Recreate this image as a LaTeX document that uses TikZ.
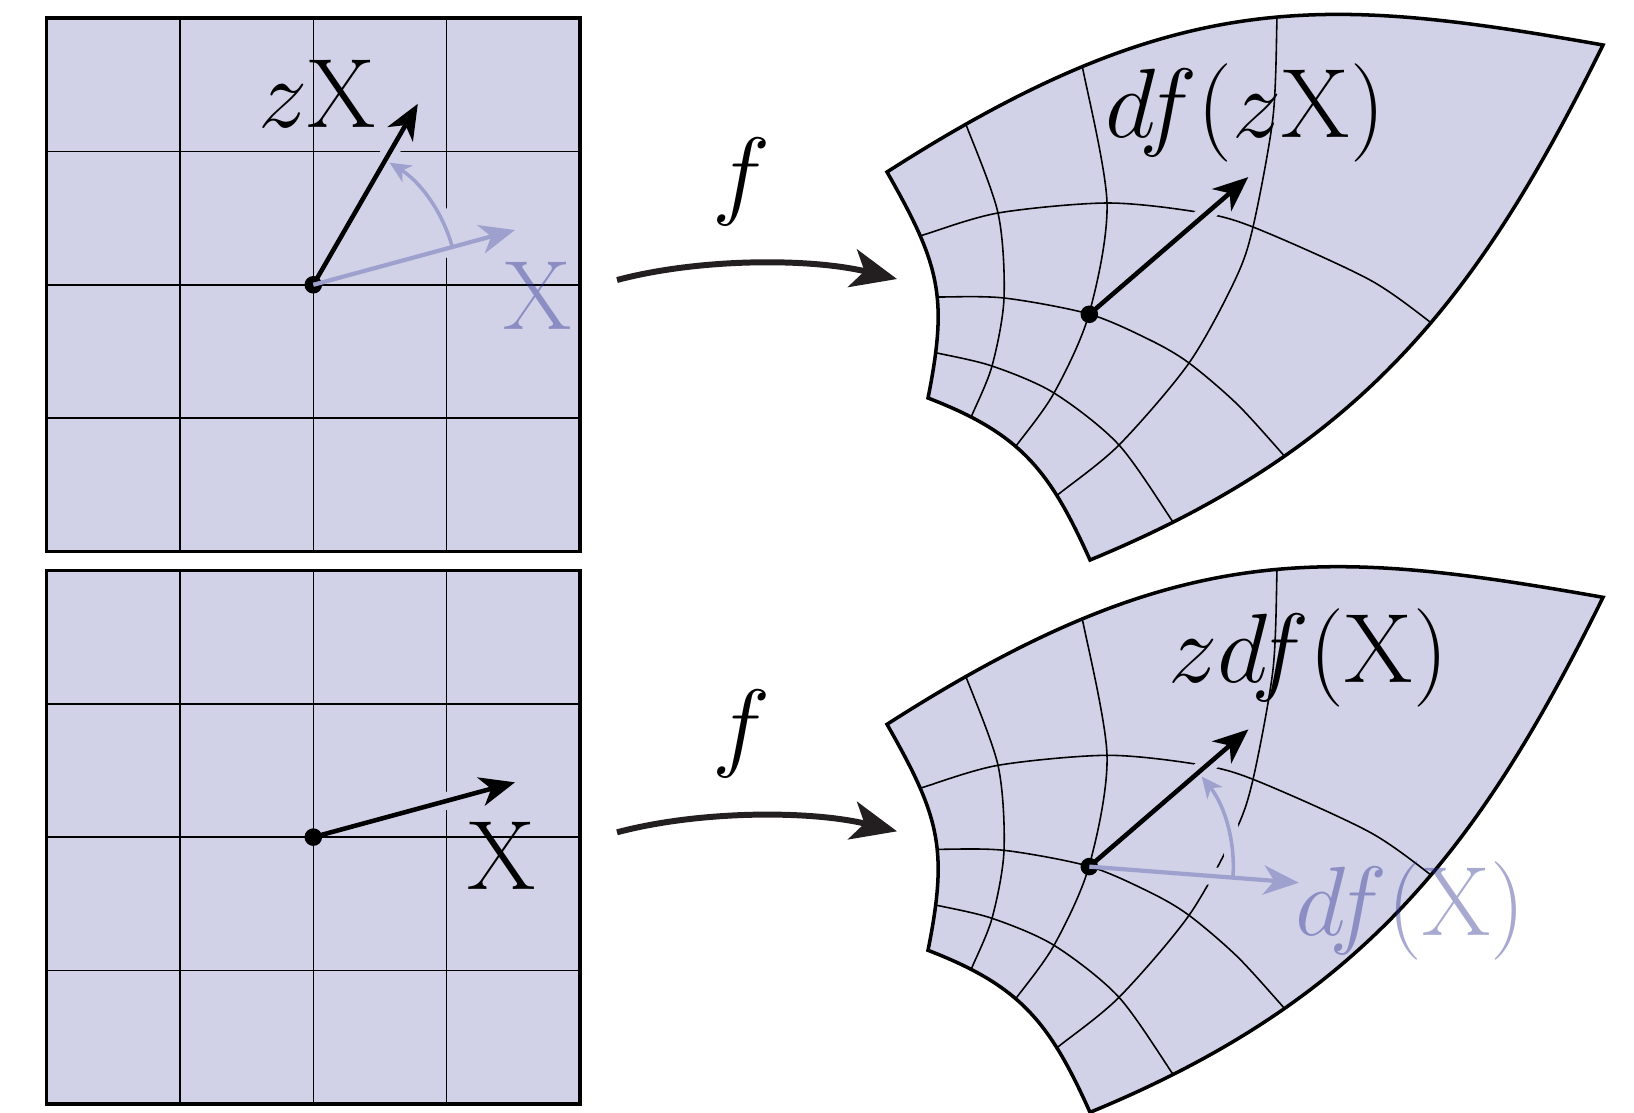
\RequirePackage{fix-cm}
\documentclass[tikz,border=0pt]{standalone}
\usetikzlibrary{arrows.meta}

\definecolor{navy}{RGB}{46,49,146}
\colorlet{lavender}{navy!22!white}
\colorlet{pale}{navy!31!lavender}
\definecolor{mapgray}{RGB}{35,31,32}

% outline of the image of the square
\newcommand{\petalpath}{(887,172) .. controls (1178,-14.7) and (1325,-4) .. (1603,45)
  .. controls (1479,296) and (1364,447) .. (1090,560)
  .. controls (1049,468.6) and (1019.6,433.4) .. (928,398)
  .. controls (948.2,297) and (940.1,265) .. (887,172) -- cycle}

\begin{document}
\begin{tikzpicture}[
  x=0.01cm, y=-0.01cm,
  >=Stealth,
  every node/.style={inner sep=0pt,font=\fontsize{28}{34}\selectfont},
  sheet/.style={fill=lavender,draw=black,line width=1pt},
  border/.style={draw=black,line width=1pt},
  gridline/.style={line width=0.45pt},
  halo/.style={draw=lavender,line width=5pt,shorten <=12pt,shorten >=10pt},
  vec/.style={-{Stealth[length=10pt,width=8.3pt,inset=3pt]},line width=1.3pt},
  palevec/.style={vec,draw=pale,line width=1.2pt},
  turn/.style={-{Stealth[length=6pt,width=5.5pt,inset=1.8pt]},draw=pale,line width=1pt},
  map/.style={-{Stealth[length=13pt,width=11pt,inset=3.5pt]},draw=mapgray,line width=1.7pt},
  palelabel/.style={text=navy,text opacity=0.42}
]
  \useasboundingbox (0,0) rectangle (1634,1112);

  % the square grid and its image, twice
  \foreach \dy in {0,552.3}{
    \begin{scope}[shift={(0,\dy)}]
      \filldraw[sheet] (46.5,18) rectangle (580.1,551.6);
      \foreach \k in {1,2,3}{
        \draw[gridline] (46.5+133.4*\k,18) -- (46.5+133.4*\k,551.6);
        \draw[gridline] (46.5,18+133.4*\k) -- (580.1,18+133.4*\k);
      }
      \fill[lavender] \petalpath;
      \begin{scope}
        \clip \petalpath;
        \draw[gridline] plot[smooth] coordinates {(961.6,112.6) (965,122) (998,213) (1004,298) (992,366) (972,415) (968,425)};
        \draw[gridline] plot[smooth] coordinates {(1080,55) (1082,65) (1107,203) (1089,314) (1054,393) (1016,446) (1010,454)};
        \draw[gridline] plot[smooth] coordinates {(1277.4,7) (1277,17) (1273,117) (1253,227) (1235,280) (1189,363) (1119,445) (1060,493) (1052,499.5)};
        \draw[gridline] plot[smooth] coordinates {(913,238) (923,235) (998,213) (1107,203) (1197,212) (1253,227) (1370,280) (1438,328) (1446,334)};
        \draw[gridline] plot[smooth] coordinates {(928,297) (938,297) (1004,298) (1089,314) (1150,340) (1189,363) (1238,405) (1288,460) (1295,467)};
        \draw[gridline] plot[smooth] coordinates {(927,351) (937,353) (992,366) (1054,393) (1119,445) (1175,525) (1181,533)};
      \end{scope}
      \draw[border,line join=miter] \petalpath;
    \end{scope}
  }

  % top row
  \coordinate (p1) at (313.3,284.8);
  \coordinate (X1) at (515,230);
  \coordinate (zX1) at (417.8,103.8);
  \coordinate (q1) at (1089.3,314.3);
  \coordinate (dfzX) at (1248.3,177.1);
  \coordinate (fa1) at (617,280);
  \coordinate (fb1) at (897,279);

  \draw[halo] (p1) -- (zX1);
  \draw[halo] (p1) -- (X1);
  \draw[halo,shorten <=0pt] (p1) ++(-15.2:144) arc[start angle=-15.2,end angle=-58,radius=144];
  \draw[halo] (q1) -- (dfzX);

  \draw[vec] (p1) -- (zX1);
  \fill (p1) circle[radius=8.8];
  \draw[palevec] (p1) -- (X1);
  \draw[turn] (p1) ++(-15.2:144) arc[start angle=-15.2,end angle=-58,radius=144];
  \draw[vec] (q1) -- (dfzX);
  \fill (q1) circle[radius=8.8];
  \draw[map] (fa1) .. controls (700,258) and (810,258) .. (fb1);

  \node[anchor=base west] (zXlab) at (258,127) {$z\mathrm{X}$};
  \node[anchor=base west,palelabel] (Xlab1) at (503,329) {$\mathrm{X}$};
  \node (f1) at (742,182) {$f$};
  \node[anchor=base west] (dfzXlab) at (1105,137.5) {$df(z\mathrm{X})$};

  % bottom row
  \coordinate (p2) at (313.3,837.1);
  \coordinate (X2) at (515,782.3);
  \coordinate (q2) at (1089.3,866.6);
  \coordinate (zdfX) at (1248.3,729.4);
  \coordinate (dfX) at (1298.7,882.7);
  \coordinate (fa2) at (617,832.3);
  \coordinate (fb2) at (897,831.3);

  \draw[halo] (p2) -- (X2);
  \draw[halo] (q2) -- (zdfX);
  \draw[halo] (q2) -- (dfX);
  \draw[halo,shorten <=0pt] (q2) ++(4.4:144) arc[start angle=4.4,end angle=-38.7,radius=144];

  \draw[vec] (p2) -- (X2);
  \fill (p2) circle[radius=8.8];
  \draw[vec] (q2) -- (zdfX);
  \fill (q2) circle[radius=8.8];
  \draw[palevec] (q2) -- (dfX);
  \draw[turn] (q2) ++(4.4:144) arc[start angle=4.4,end angle=-38.7,radius=144];
  \draw[map] (fa2) .. controls (700,810.3) and (810,810.3) .. (fb2);

  \node[anchor=base west] (Xlab2) at (467,889) {$\mathrm{X}$};
  \node (f2) at (742,734) {$f$};
  \node[anchor=base west] (zdfXlab) at (1168,682) {$zdf(\mathrm{X})$};
  \node[anchor=base west,palelabel] (dfXlab) at (1295,935) {$df(\mathrm{X})$};
\end{tikzpicture}
\end{document}
